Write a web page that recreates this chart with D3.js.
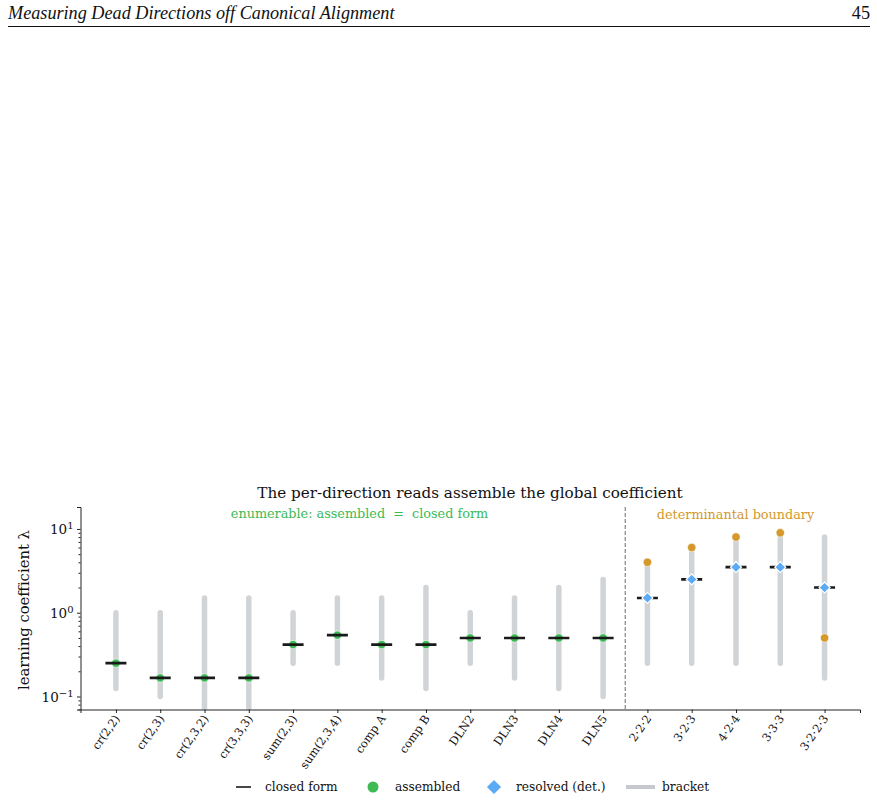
<!DOCTYPE html>
<html><head><meta charset="utf-8">
<script src="https://cdn.jsdelivr.net/npm/d3@7"></script>
<style>body{margin:0;background:#fff}</style>
</head><body>
<svg id="c" width="877" height="801"></svg>
<script>
// ---- data ----
const categories = ["cr(2,2)","cr(2,3)","cr(2,3,2)","cr(3,3,3)","sum(2,3)","sum(2,3,4)","comp A","comp B","DLN2","DLN3","DLN4","DLN5","2·2·2","3·2·3","4·2·4","3·3·3","3·2·2·3"];
const closedForm = [0.25,0.1667,0.1667,0.1667,0.4167,0.54,0.4167,0.4167,0.5,0.5,0.5,0.5,1.5,2.5,3.5,3.5,2.0];
const assembled  = [0.25,0.1667,0.1667,0.1667,0.4167,0.54,0.4167,0.4167,0.5,0.5,0.5,0.5,null,null,null,null,null];
const resolved   = [null,null,null,null,null,null,null,null,null,null,null,null,1.5,2.5,3.5,3.5,2.0];
const bracketLo  = [0.125,0.1,0.05,0.05,0.25,0.25,0.1667,0.125,0.25,0.1667,0.125,0.1,0.25,0.25,0.25,0.25,0.1667];
const bracketHi  = [1,1,1.5,1.5,1,1.5,1.5,2,1,1.5,2,2.5,4,6,8,9,8];
const boundaryPts = [[12,4],[13,6],[14,8],[15,9],[16,0.5]]; // [category index, value]
const yTicks = [0.1,1,10];
const legendItems = ["closed form","assembled","resolved (det.)","bracket"];

const C = {green:"#3dba54", blue:"#5aaaf5", orange:"#d4982b", gray:"#d1d4d7", dark:"#1a1a1a"};
const serif = "'DejaVu Serif', serif";

const svg = d3.select("#c");

// header
svg.append("text").attr("x",8).attr("y",19)
  .attr("font-family","'Liberation Serif', serif").attr("font-style","italic")
  .attr("font-size",18.2).attr("fill","#111").text("Measuring Dead Directions off Canonical Alignment");
svg.append("text").attr("x",870).attr("y",19).attr("text-anchor","end")
  .attr("font-family","'Liberation Serif', serif").attr("font-size",18.2).attr("fill","#111").text("45");
svg.append("line").attr("x1",8).attr("x2",870).attr("y1",26.5).attr("y2",26.5).attr("stroke","#111").attr("stroke-width",1);

// scales
const L = 80.5, R = 860, T = 507, B = 709.5;
const x = d3.scaleLinear().domain([-0.8, categories.length - 1 + 0.8]).range([L, R]);
const y = d3.scaleLog().domain([10**-1.155, 10**1.262]).range([B, T]);

svg.append("defs").append("clipPath").attr("id","clip")
  .append("rect").attr("x",L).attr("y",T).attr("width",R-L).attr("height",B-T);
const plot = svg.append("g").attr("clip-path","url(#clip)");

// brackets
plot.selectAll("line.br").data(categories).join("line")
  .attr("x1",(d,i)=>x(i)).attr("x2",(d,i)=>x(i))
  .attr("y1",(d,i)=>y(bracketLo[i])).attr("y2",(d,i)=>y(bracketHi[i]))
  .attr("stroke",C.gray).attr("stroke-width",5.5).attr("stroke-linecap","round");

// divider
svg.append("line").attr("x1",x(11.5)).attr("x2",x(11.5)).attr("y1",T).attr("y2",B)
  .attr("stroke","#8a8d91").attr("stroke-width",1.3).attr("stroke-dasharray","4,2");

// assembled dots
plot.selectAll("circle.as").data(assembled.map((v,i)=>[i,v]).filter(d=>d[1]!=null)).join("circle")
  .attr("cx",d=>x(d[0])).attr("cy",d=>y(d[1])).attr("r",4.2)
  .attr("fill",C.green).attr("stroke","#fff").attr("stroke-width",0.6);

// closed form
plot.selectAll("line.cf").data(closedForm).join("line")
  .attr("x1",(d,i)=>x(i)-10.5).attr("x2",(d,i)=>x(i)+10.5)
  .attr("y1",d=>y(d)).attr("y2",d=>y(d))
  .attr("stroke",C.dark).attr("stroke-width",2.6);

// resolved diamonds (rotated squares)
const dsym = d3.symbol().type(d3.symbolSquare).size(60);
plot.selectAll("path.rs").data(resolved.map((v,i)=>[i,v]).filter(d=>d[1]!=null)).join("path")
  .attr("d",dsym).attr("transform",d=>`translate(${x(d[0])},${y(d[1])}) rotate(45)`)
  .attr("fill",C.blue).attr("stroke","#fff").attr("stroke-width",1.2);

// boundary points
plot.selectAll("circle.bd").data(boundaryPts).join("circle")
  .attr("cx",d=>x(d[0])).attr("cy",d=>y(d[1])).attr("r",4.2)
  .attr("fill",C.orange).attr("stroke","#fff").attr("stroke-width",0.6);

// axes
const yAxis = svg.append("g").attr("transform",`translate(${L},0)`)
  .call(d3.axisLeft(y).tickValues(yTicks).tickSize(3.5).tickFormat(()=>""));
const minor = [];
for (let e=-2;e<=1;e++) for (let k=2;k<=9;k++){const v=k*10**e; if(v>=y.domain()[0]&&v<=y.domain()[1]) minor.push(v);}
svg.append("g").attr("transform",`translate(${L},0)`)
  .call(d3.axisLeft(y).tickValues(minor).tickSize(2).tickFormat(()=>""))
  .call(g=>g.select(".domain").remove());
yAxis.selectAll(".tick").each(function(v){
  const e = Math.round(Math.log10(v));
  const t = d3.select(this).append("text").attr("x",-7).attr("dy","0.35em")
    .attr("text-anchor","end").attr("fill","#111").attr("font-family",serif).attr("font-size",13.5);
  t.append("tspan").text("10");
  t.append("tspan").attr("dy","-0.5em").attr("font-size",10).text(e<0?"−"+(-e):String(e));
});
const xAxis = svg.append("g").attr("transform",`translate(0,${B})`)
  .call(d3.axisBottom(x).tickValues(d3.range(categories.length)).tickSize(3.5).tickFormat(i=>categories[i]));
xAxis.selectAll("text").attr("font-family",serif).attr("font-size",11.5).attr("fill","#111")
  .attr("text-anchor","end").attr("dy",null).attr("y",0)
  .attr("transform","translate(4,9) rotate(-55)");
svg.selectAll(".domain").attr("stroke","#222");
svg.selectAll(".tick line").attr("stroke","#222");

// titles
svg.append("text").attr("x",470).attr("y",498).attr("text-anchor","middle")
  .attr("font-family",serif).attr("font-size",15.2).attr("fill","#111")
  .text("The per-direction reads assemble the global coefficient");
svg.append("text").attr("x",359.5).attr("y",518).attr("text-anchor","middle")
  .attr("font-family",serif).attr("font-size",12.8).attr("fill",C.green)
  .style("white-space","pre").text("enumerable: assembled  =  closed form");
svg.append("text").attr("x",735.5).attr("y",519).attr("text-anchor","middle")
  .attr("font-family",serif).attr("font-size",12.8).attr("fill",C.orange)
  .text("determinantal boundary");
svg.append("text").attr("transform","translate(29,610) rotate(-90)").attr("text-anchor","middle")
  .attr("font-family",serif).attr("font-size",14.8).attr("fill","#111").text("learning coefficient λ");

// legend
const lg = svg.append("g").attr("font-family",serif).attr("font-size",12.2).attr("fill","#111");
const ly = 787;
lg.append("line").attr("x1",236).attr("x2",251).attr("y1",ly).attr("y2",ly).attr("stroke","#333").attr("stroke-width",1.8);
lg.append("text").attr("x",265).attr("y",ly+4).text(legendItems[0]);
lg.append("circle").attr("cx",373).attr("cy",ly).attr("r",5.5).attr("fill",C.green);
lg.append("text").attr("x",395).attr("y",ly+4).text(legendItems[1]);
lg.append("path").attr("d",d3.symbol().type(d3.symbolSquare).size(100)).attr("transform",`translate(494,${ly}) rotate(45)`).attr("fill",C.blue);
lg.append("text").attr("x",516).attr("y",ly+4).text(legendItems[2]);
lg.append("line").attr("x1",626).attr("x2",655).attr("y1",ly).attr("y2",ly).attr("stroke","#c5c8cc").attr("stroke-width",4);
lg.append("text").attr("x",662).attr("y",ly+4).text(legendItems[3]);
</script>
</body></html>
